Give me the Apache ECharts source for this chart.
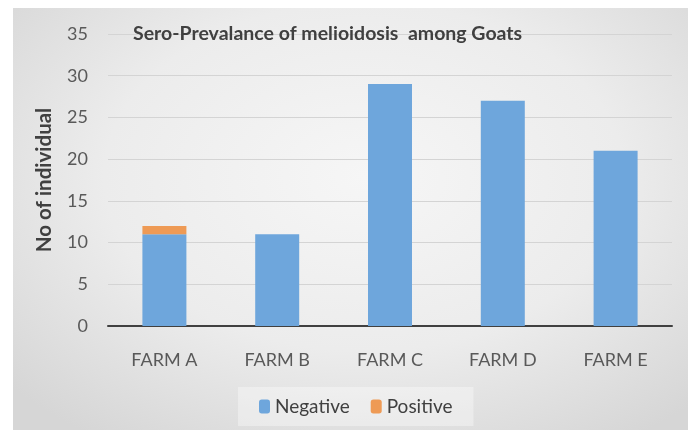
<!DOCTYPE html>
<html>
<head>
<meta charset="utf-8">
<script src="https://cdn.jsdelivr.net/npm/echarts@6/dist/echarts.min.js"></script>
<style>
html,body{margin:0;padding:0;background:#fff;}
#wrap{position:absolute;left:0;top:0;width:688px;height:430px;}
#bg{position:absolute;left:13px;top:8px;width:675px;height:422px;
background:radial-gradient(ellipse 70% 75% at 52% 40%, #f6f6f6 0%, #ececec 55%, #d6d6d6 100%);}
#chart{position:absolute;left:0;top:0;width:688px;height:430px;}
</style>
</head>
<body>
<div id="wrap"><div id="bg"></div><div id="chart"></div></div>
<script>
const categories = ['FARM A','FARM B','FARM C','FARM D','FARM E'];
const negative = [11, 11, 29, 27, 21];
const positive = [1, 0, 0, 0, 0];
const yTicks = [0, 5, 10, 15, 20, 25, 30, 35];

const chart = echarts.init(document.getElementById('chart'), null, {renderer:'canvas'});
const font = 'Lato, "Open Sans", sans-serif';
chart.setOption({
  backgroundColor: 'transparent',
  animation: false,
  title: {
    text: 'Sero-Prevalance of melioidosis  among Goats',
    left: 128, top: 19,
    textStyle: {fontFamily: font, fontWeight: 'bold', fontSize: 19.5, color: '#404040'}
  },
  legend: {
    top: 387, left: 238,
    itemWidth: 11, itemHeight: 14, itemGap: 21,
    padding: [10, 21, 10, 21],
    backgroundColor: 'rgba(255,255,255,0.35)',
    textStyle: {fontFamily: font, fontSize: 19, color: '#404040'},
    data: ['Negative', 'Positive']
  },
  grid: {left: 108, right: 16, top: 34, bottom: 104},
  xAxis: {
    type: 'category', data: categories,
    axisLine: {lineStyle: {color: '#404040', width: 2}},
    axisTick: {show: false},
    axisLabel: {fontFamily: font, fontSize: 18, color: '#595959', margin: 25}
  },
  yAxis: {
    type: 'value', min: yTicks[0], max: yTicks[yTicks.length-1], interval: 5,
    name: 'No of individual', nameLocation: 'middle', nameGap: 53,
    nameTextStyle: {fontFamily: font, fontWeight: 'bold', fontSize: 20.5, color: '#404040'},
    axisLine: {show: false}, axisTick: {show: false},
    axisLabel: {fontFamily: font, fontSize: 18, color: '#595959', margin: 20},
    splitLine: {lineStyle: {color: '#d4d4d4', width: 1}}
  },
  series: [
    {name: 'Negative', type: 'bar', stack: 'a', data: negative, barWidth: '39%',
     itemStyle: {color: '#6ea6dc'}},
    {name: 'Positive', type: 'bar', stack: 'a', data: positive, barWidth: '39%',
     itemStyle: {color: '#ee9a55'}}
  ]
});
</script>
</body>
</html>
